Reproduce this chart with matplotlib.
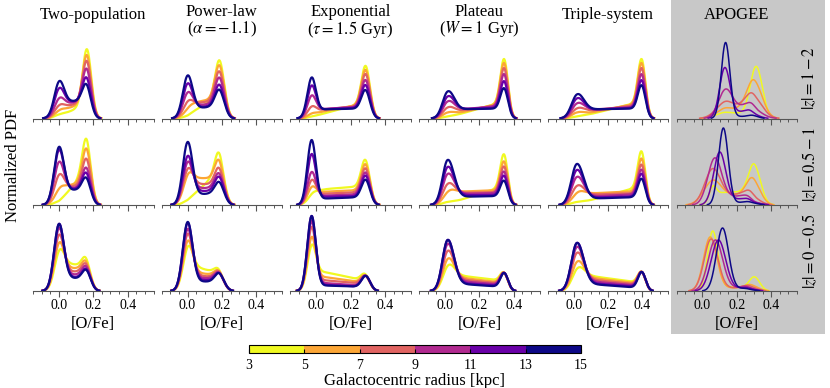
import matplotlib
matplotlib.use("Agg")
import matplotlib.pyplot as plt
import numpy as np
from matplotlib.colors import ListedColormap, BoundaryNorm
from matplotlib.cm import ScalarMappable
from matplotlib.patches import Rectangle
from matplotlib.ticker import MultipleLocator, FormatStrFormatter

plt.rcParams['font.family'] = 'serif'
plt.rcParams['font.serif'] = ['Liberation Serif', 'DejaVu Serif']
plt.rcParams['mathtext.fontset'] = 'stix'

RADII = [3, 5, 7, 9, 11, 13, 15]
COLORS = ['#f0f921', '#fca636', '#e16462', '#b12a90', '#6a00a8', '#0d0887']
TITLES = ["Two-population", "Power-law", "Exponential", "Plateau", "Triple-system", "APOGEE"]
SUBTITLES = ["", r"($\alpha=-1.1$)", r"($\tau=1.5$ Gyr)", r"($W=1$ Gyr)", "", ""]
ZBINS = [r"$|z|=1-2$", r"$|z|=0.5-1$", r"$|z|=0-0.5$"]

# model columns: peak positions and widths in [O/Fe]
LOW_POS = [0.0, 0.0, -0.027, 0.015, 0.018]
HIGH_POS = [0.165, 0.19, 0.29, 0.346, 0.397]
LOW_SIG_L = [0.028, 0.028, 0.025, 0.03, 0.032]
LOW_SIG_R = [0.028, 0.028, 0.024, 0.036, 0.038]
HIGH_SIG = [0.025, 0.027, 0.025, 0.022, 0.022]

# heights read per row (|z| bins) / column / radius bin (3-5 ... 13-15)
LOW_H = [
    [[4, 8, 13, 20, 30, 37], [3, 10, 17, 26, 35, 43], [2, 5, 12, 23, 33, 41], [2, 6, 11, 17, 22, 27], [2, 6, 10, 15, 20, 24]],
    [[4, 16, 30, 43, 55, 58], [5, 30, 36, 43, 49, 63], [11, 18, 25, 33, 51, 65], [3, 13, 21, 31, 38, 45], [3, 12, 19, 28, 35, 41]],
    [[40, 48, 56, 63, 67, 67], [44, 50, 57, 62, 68, 69], [46, 54, 64, 70, 75, 75], [25, 32, 40, 47, 51, 51], [22, 29, 38, 44, 48, 48]],
]
HIGH_H = [
    [[69, 63, 57, 49, 40, 33], [57, 52, 46, 40, 33, 28], [52, 48, 44, 38, 33, 28], [59, 55, 50, 44, 37, 30], [59, 55, 50, 44, 38, 33]],
    [[64, 55, 45, 36, 31, 26], [49, 42, 35, 30, 27, 22], [44, 40, 36, 32, 29, 25], [50, 43, 38, 33, 29, 24], [53, 46, 40, 35, 31, 26]],
    [[30, 27, 25, 23, 21, 20], [19, 18, 18, 17, 17, 17], [16, 15, 15, 15, 15, 15], [18, 18, 18, 18, 18, 18], [19, 19, 19, 19, 19, 19]],
]
BRIDGE_LO = [
    [[3, 8, 11, 14, 16, 17], [5, 16, 15, 13, 11, 10], [2, 5, 8, 9, 9, 9], [1, 3, 6, 8, 9, 9], [1, 3, 6, 8, 8, 9]],
    [[4, 18, 18, 16, 15, 14], [6, 28, 22, 17, 14, 10], [15, 13, 11, 9, 8, 6], [1, 13, 12, 11, 10, 8], [1, 11, 10, 8, 7, 6]],
    [[30, 24, 20, 17, 15, 14], [27, 20, 17, 14, 12, 10], [22, 16, 12, 9, 7, 6], [17, 15, 13, 11, 9, 8], [17, 15, 13, 11, 9, 8]],
]
BRIDGE_HI = [
    [[14, 16, 17, 18, 18, 18], [22, 20, 18, 15, 13, 12], [16, 15, 13, 12, 11, 10], [17, 16, 14, 13, 11, 10], [17, 16, 14, 12, 11, 10]],
    [[35, 24, 20, 18, 17, 16], [34, 26, 20, 17, 14, 12], [19, 15, 13, 11, 9, 8], [19, 15, 13, 12, 10, 9], [19, 14, 12, 11, 9, 8]],
    [[24, 22, 19, 16, 13, 12], [17, 15, 13, 12, 10, 9], [10, 8, 7, 5, 4, 4], [10, 8, 7, 6, 5, 4], [8, 7, 6, 5, 4, 3]],
]

# APOGEE column
APO_LOW_C = [[0.10, 0.11, 0.12, 0.13, 0.13, 0.135], [0.06, 0.05, 0.055, 0.07, 0.10, 0.122], [0.06, 0.045, 0.05, 0.075, 0.093, 0.117]]
APO_LOW_S = [[0.05, 0.05, 0.05, 0.04, 0.03, 0.025], [0.02, 0.05, 0.045, 0.04, 0.035, 0.028], [0.03, 0.038, 0.04, 0.042, 0.042, 0.035]]
APO_LOW_H = [[5, 9, 16, 29, 51, 76], [19, 24, 36, 47, 53, 77], [60, 54, 52, 51, 51, 63]]
APO_HIGH_C = [[0.315, 0.305, 0.30, 0.30, 0.29, 0.30], [0.307, 0.30, 0.29, 0.28, 0.28, 0.28], [0.307, 0.29, 0.28, 0.27, 0.27, 0.27]]
APO_HIGH_S = [[0.035, 0.045, 0.05, 0.05, 0.04, 0.03], [0.035, 0.04, 0.045, 0.05, 0.05, 0.04], [0.03, 0.04, 0.04, 0.04, 0.04, 0.04]]
APO_HIGH_H = [[52, 38, 24, 13, 7, 3], [40, 26, 12, 7, 5, 3], [14, 6, 5, 4, 3, 2]]
APO_BRIDGE = [[5, 8, 9, 10, 6, 2], [13, 10, 10, 8, 5, 2], [4, 3, 3, 3, 2, 2]]

W, H = 830, 388
x = np.linspace(-0.15, 0.55, 500)


def edge(x, c, w):
    return 0.5 * (1 + np.tanh((x - c) / (2 * w)))


def bump(x, c, sl, sr):
    s = np.where(x < c, sl, sr)
    return np.exp(-0.5 * ((x - c) / s) ** 2)


def curve(c1, sl, sr, lo, c2, s2, hi, b0, b1):
    t = np.clip((x - c1) / (c2 - c1), 0, 1)
    bridge = (b0 + (b1 - b0) * t) * edge(x, c1, 0.02) * (1 - edge(x, c2, 0.012))
    y = bridge + (lo - 0.5 * b0) * bump(x, c1, sl, sr) + (hi - 0.5 * b1) * bump(x, c2, s2, s2)
    return np.where(y > 0.3, y, np.nan)


fig = plt.figure(figsize=(W / 100, H / 100), dpi=100)
fig.add_artist(Rectangle((671 / W, 1 - 334 / H), 154 / W, 334 / H, transform=fig.transFigure,
                         facecolor='#c8c8c8', edgecolor='none', zorder=-1))

col_left = [33 + 128.7 * i for i in range(6)]
row_base = [118.5, 205, 291]
for r in range(3):
    for c in range(6):
        ax = fig.add_axes([col_left[c] / W, 1 - row_base[r] / H, 120.5 / W, 80 / H])
        ax.set_facecolor('none')
        for k in range(6):
            if c < 5:
                y = curve(LOW_POS[c], LOW_SIG_L[c], LOW_SIG_R[c], LOW_H[r][c][k],
                          HIGH_POS[c], HIGH_SIG[c], HIGH_H[r][c][k],
                          BRIDGE_LO[r][c][k], BRIDGE_HI[r][c][k])
                ax.plot(x, y, color=COLORS[k], lw=1.6)
            else:
                y = curve(APO_LOW_C[r][k], APO_LOW_S[r][k], APO_LOW_S[r][k], APO_LOW_H[r][k],
                          APO_HIGH_C[r][k], APO_HIGH_S[r][k], APO_HIGH_H[r][k],
                          APO_BRIDGE[r][k], APO_BRIDGE[r][k])
                ax.plot(x, y, color=COLORS[k], lw=1.1)
        ax.set_xlim(-0.15, 0.55)
        ax.set_ylim(0, 80)
        for s in ['left', 'right', 'top']:
            ax.spines[s].set_visible(False)
        ax.spines['bottom'].set_color('#555555')
        ax.set_yticks([])
        ax.xaxis.set_major_locator(MultipleLocator(0.2))
        ax.xaxis.set_minor_locator(MultipleLocator(0.05))
        ax.xaxis.set_major_formatter(FormatStrFormatter('%.1f'))
        ax.tick_params(axis='x', which='major', length=4, width=0.8, color='#555555', labelsize=10, pad=2)
        ax.tick_params(axis='x', which='minor', length=2.5, width=0.7, color='#555555')
        if r < 2:
            ax.tick_params(axis='x', labelbottom=False)
        else:
            ax.set_xlabel('[O/Fe]', fontsize=12, labelpad=3)

for c in range(6):
    xc = (col_left[c] + 60) / W
    if SUBTITLES[c]:
        fig.text(xc, 1 - 12 / H, TITLES[c], ha='center', va='center', fontsize=12)
        fig.text(xc, 1 - 29 / H, SUBTITLES[c], ha='center', va='center', fontsize=12)
    else:
        fig.text(xc, 1 - 15 / H, TITLES[c], ha='center', va='center', fontsize=12)

for r in range(3):
    fig.text(810 / W, 1 - (row_base[r] - 40) / H, ZBINS[r], rotation=90, ha='center', va='center', fontsize=12)

fig.text(13 / W, 1 - 165 / H, 'Normalized PDF', rotation=90, ha='center', va='center', fontsize=12)

cax = fig.add_axes([249 / W, 1 - 353 / H, 332 / W, 8 / H])
cmap = ListedColormap(COLORS)
norm = BoundaryNorm(RADII, cmap.N)
cb = fig.colorbar(ScalarMappable(norm=norm, cmap=cmap), cax=cax, orientation='horizontal', ticks=RADII)
cb.outline.set_linewidth(0.8)
cax.tick_params(direction='in', length=3, width=0.8, labelsize=10, pad=4)
cb.set_label('Galactocentric radius [kpc]', fontsize=12, labelpad=1)

fig.savefig('out.png', dpi=100)
